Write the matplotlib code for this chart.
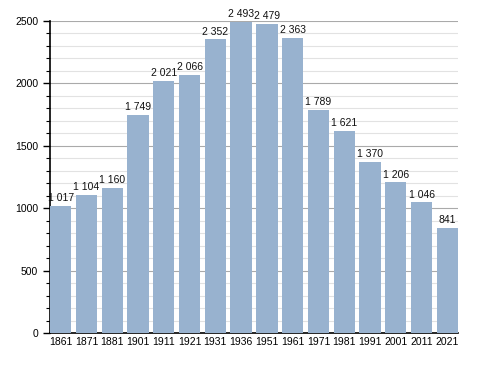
import matplotlib
matplotlib.use("Agg")
import matplotlib.pyplot as plt
from matplotlib.ticker import MultipleLocator

years = ["1861", "1871", "1881", "1901", "1911", "1921", "1931", "1936",
         "1951", "1961", "1971", "1981", "1991", "2001", "2011", "2021"]
population = [1017, 1104, 1160, 1749, 2021, 2066, 2352, 2493,
              2479, 2363, 1789, 1621, 1370, 1206, 1046, 841]

plt.rcParams['font.family'] = ['Liberation Sans', 'DejaVu Sans']

fig = plt.figure(figsize=(4.88, 3.73), dpi=100)
ax = fig.add_axes([50/488, 40/373, 408/488, 312/373])

x = list(range(len(years)))
w = 0.83
ax.bar(x, population, width=w, color="#98b2cf", zorder=3)

def fmt(v):
    s = f"{v:,}".replace(",", " ")
    return s

for xi, v in zip(x, population):
    ax.text(xi, v + 22, fmt(v), ha="center", va="bottom", fontsize=7.5, color="#111111", zorder=4)

ax.set_xlim(-w/2, len(years) - 1 + w/2)
ax.set_ylim(0, 2500)
ax.set_xticks(x)
ax.set_xticklabels(years, fontsize=7.5)
ax.tick_params(axis="x", length=0, pad=3)
ax.yaxis.set_major_locator(MultipleLocator(500))
ax.yaxis.set_minor_locator(MultipleLocator(100))
ax.tick_params(axis="y", which="major", length=5, labelsize=7.5, direction="out", width=1)
ax.tick_params(axis="y", which="minor", length=3, direction="out", width=0.8)
ax.grid(axis="y", which="major", color="#aaaaaa", linewidth=0.8, zorder=0)
ax.grid(axis="y", which="minor", color="#e2e2e2", linewidth=0.8, zorder=0)
for s in ["top", "right"]:
    ax.spines[s].set_visible(False)
ax.spines["left"].set_linewidth(1.2)
ax.spines["bottom"].set_linewidth(1.2)

fig.savefig("out.png", dpi=100)
